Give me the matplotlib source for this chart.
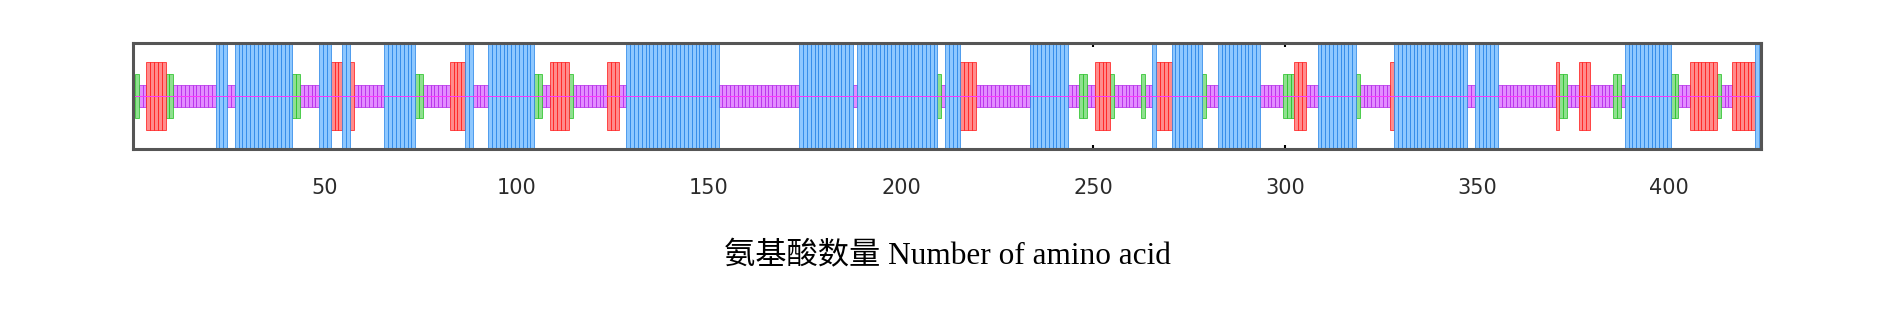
import matplotlib.pyplot as plt

# secondary structure per residue, as (first, last) residue ranges
seq_len = 423
helix = [(22, 24), (27, 41), (49, 51), (55, 56), (66, 73), (87, 88), (93, 104),
         (129, 152), (174, 187), (189, 209), (212, 215), (234, 243), (266, 266),
         (271, 278), (283, 293), (309, 318), (329, 347), (350, 355), (389, 400),
         (423, 423)]
strand = [(4, 8), (52, 54), (57, 57), (83, 86), (109, 113), (124, 126), (216, 219),
          (251, 254), (267, 270), (303, 305), (328, 328), (371, 371), (377, 379),
          (406, 412), (417, 422)]
turn = [(1, 1), (9, 10), (42, 43), (74, 75), (105, 106), (114, 114), (210, 210),
        (247, 248), (255, 255), (263, 263), (279, 279), (300, 302), (319, 319),
        (372, 373), (386, 387), (401, 402), (413, 413)]
coil = [(2, 3), (11, 21), (25, 26), (44, 48), (58, 65), (76, 82), (89, 92),
        (107, 108), (115, 123), (127, 128), (153, 173), (188, 188), (211, 211),
        (220, 233), (244, 246), (249, 250), (256, 262), (264, 265), (280, 282),
        (294, 299), (306, 308), (320, 327), (348, 349), (356, 370), (374, 376),
        (380, 385), (388, 388), (403, 405), (414, 416)]

xticks = [50, 100, 150, 200, 250, 300, 350, 400]
xlabel = '氨基酸数量 Number of amino acid'

fig = plt.figure(figsize=(18.9, 3.17), dpi=100)
ax = fig.add_axes([133 / 1890, 1 - 149 / 317, (1761 - 133) / 1890, 106 / 317])


def residues(ranges):
    out = []
    for a, b in ranges:
        out.extend(range(a, b + 1))
    return out


# (ranges, half height, fill, edge)
styles = [
    (coil, 0.21, '#e38cff', '#b020e8'),
    (turn, 0.42, '#8fe08f', '#1cbf1c'),
    (strand, 0.645, '#ff8c8c', '#ff1010'),
    (helix, 1.0, '#8ec8ff', '#1f7fe6'),
]
for ranges, h, fill, edge in styles:
    pos = residues(ranges)
    ax.bar(pos, [2 * h] * len(pos), bottom=-h, width=1.0, color=fill,
           edgecolor=edge, linewidth=0.5, zorder=1)

# thin magenta centre line
ax.axhline(0, color='#ff33ff', lw=0.7, zorder=2)

ax.set_xlim(0, seq_len + 1)
ax.set_ylim(-1, 1)
ax.set_axisbelow(True)
ax.set_yticks([])
ax.set_xticks(xticks)
ax.tick_params(axis='x', direction='in', length=3, width=1.5, top=True,
               pad=21, labelsize=15, labelcolor='#2b2b2b')
for s in ax.spines.values():
    s.set_color('#555555')
    s.set_linewidth(2.2)

ax.set_xlabel(xlabel, family=['Liberation Serif', 'Noto Sans CJK SC'],
              fontsize=22.5, va='center')
ax.xaxis.set_label_coords(0.5, -1.02)

fig.savefig('out.png', dpi=100)
